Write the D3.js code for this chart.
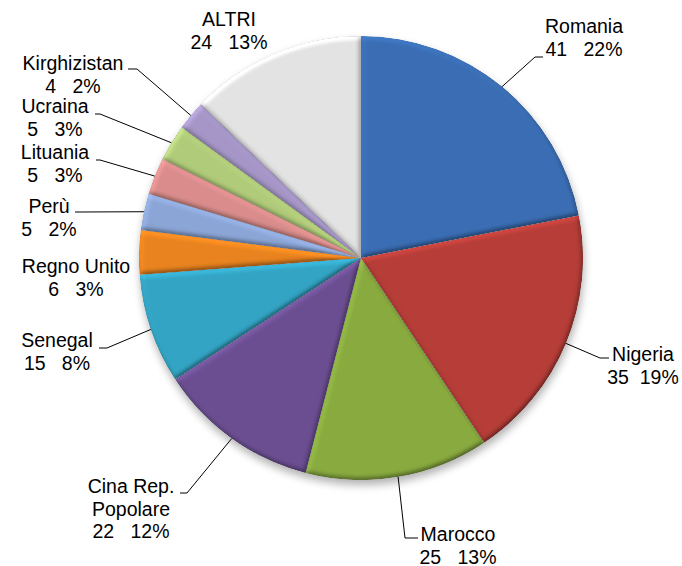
<!DOCTYPE html>
<html>
<head>
<meta charset="utf-8">
<script src="https://cdn.jsdelivr.net/npm/d3@7/dist/d3.min.js"></script>
<style>
  html, body { margin: 0; padding: 0; background: #fff; }
  svg text { font-family: "Liberation Sans", Arial, sans-serif; font-size: 19.5px; fill: #000; white-space: pre; }
</style>
</head>
<body>
<svg id="chart" width="682" height="566"></svg>
<script>
// Country of origin breakdown
const categories = ["Romania", "Nigeria", "Marocco", "Cina Rep. Popolare", "Senegal",
                    "Regno Unito", "Perù", "Lituania", "Ucraina", "Kirghizistan", "ALTRI"];
const values = [41, 35, 25, 22, 15, 6, 5, 5, 5, 4, 24];
const percentLabels = ["22%", "19%", "13%", "12%", "8%", "3%", "2%", "3%", "3%", "2%", "13%"];

// Slice colours
const colors = ["#3A6DB3", "#B63D38", "#88AA3F", "#6B4E91", "#33A4C4",
                "#E8831F", "#8BA5D6", "#D98C8B", "#B0CB7A", "#A596C7", "#E3E3E3"];

// Label layout: name lines, centre x, first baseline, gap text, leader elbow & end
const labelLayout = [
  { lines: ["Romania"], cx: 584, y: 33, gap: "   ", elbow: [535, 57], end: [543, 57] },
  { lines: ["Nigeria"], cx: 643, y: 361, gap: "  ", elbow: [600, 358], end: [609, 358] },
  { lines: ["Marocco"], cx: 458, y: 541, gap: "   ", elbow: [405, 538], end: [418, 538] },
  { lines: ["Cina Rep.", "Popolare"], cx: 131, y: 493, gap: "   ", elbow: [187, 493], end: [180, 493] },
  { lines: ["Senegal"], cx: 57, y: 347, gap: "   ", elbow: [107, 348], end: [99, 348] },
  { lines: ["Regno Unito"], cx: 76, y: 273, gap: "   ", elbow: null },
  { lines: ["Perù"], cx: 49, y: 213, gap: "   ", elbow: [80, 212], end: [75, 212] },
  { lines: ["Lituania"], cx: 55, y: 159, gap: "   ", elbow: [100, 160], end: [96, 160] },
  { lines: ["Ucraina"], cx: 55, y: 113, gap: "   ", elbow: [100, 114], end: [95, 114] },
  { lines: ["Kirghizistan"], cx: 73, y: 70, gap: "   ", elbow: [137, 69], end: [128, 69] },
  { lines: ["ALTRI"], cx: 229, y: 26, gap: "   ", elbow: null }
];

const svg = d3.select("#chart");
const cx = 361, cy = 258, radius = 222;
const lineGap = 22.5;

const defs = svg.append("defs");

// Soft shadow under the pie
const shadow = defs.append("filter").attr("id", "pieShadow")
  .attr("x", "-20%").attr("y", "-20%").attr("width", "140%").attr("height", "140%");
shadow.append("feGaussianBlur").attr("in", "SourceAlpha").attr("stdDeviation", 4);

// Soft bevel lighting for each slice
const bevel = defs.append("filter").attr("id", "bevel")
  .attr("x", "-5%").attr("y", "-5%").attr("width", "110%").attr("height", "110%")
  .attr("color-interpolation-filters", "sRGB");
bevel.append("feGaussianBlur").attr("in", "SourceAlpha").attr("stdDeviation", 2.5).attr("result", "b");
const light = bevel.append("feDiffuseLighting").attr("in", "b").attr("surfaceScale", 1.6)
  .attr("diffuseConstant", 1).attr("lighting-color", "#ffffff").attr("result", "l");
light.append("feDistantLight").attr("azimuth", 240).attr("elevation", 60);
bevel.append("feComposite").attr("in", "SourceGraphic").attr("in2", "l")
  .attr("operator", "arithmetic").attr("k1", 1.155).attr("k2", 0).attr("k3", 0).attr("k4", 0)
  .attr("result", "lit");
bevel.append("feComposite").attr("in", "lit").attr("in2", "SourceAlpha").attr("operator", "in");

const pie = d3.pie().sort(null).value(d => d)(values);
const arc = d3.arc().innerRadius(0).outerRadius(radius);
const edgeArc = d3.arc().innerRadius(radius).outerRadius(radius);

const g = svg.append("g").attr("transform", `translate(${cx},${cy})`);

g.append("circle")
  .attr("cx", 1).attr("cy", 5).attr("r", radius)
  .attr("fill", "#000").attr("opacity", 0.3)
  .attr("filter", "url(#pieShadow)");

g.selectAll("path.slice")
  .data(pie)
  .join("path")
  .attr("class", "slice")
  .attr("d", arc)
  .attr("fill", (d, i) => colors[i])
  .attr("filter", "url(#bevel)");

// Leader lines: from the outer edge at each slice's mid-angle
const leaders = svg.append("g").attr("fill", "none").attr("stroke", "#000").attr("stroke-width", 1);
pie.forEach((d, i) => {
  const L = labelLayout[i];
  if (!L.elbow) return;
  const p = edgeArc.centroid(d);
  const start = [cx + p[0], cy + p[1]];
  leaders.append("path").attr("d", d3.line()([start, L.elbow, L.end]));
});

// Labels
const labels = svg.append("g");
pie.forEach((d, i) => {
  const L = labelLayout[i];
  const t = labels.append("text").attr("text-anchor", "middle");
  const rows = L.lines.concat([`${values[i]}${L.gap}${percentLabels[i]}`]);
  rows.forEach((r, k) => {
    t.append("tspan").attr("x", L.cx).attr("y", L.y + k * lineGap).text(r);
  });
});
</script>
</body>
</html>
